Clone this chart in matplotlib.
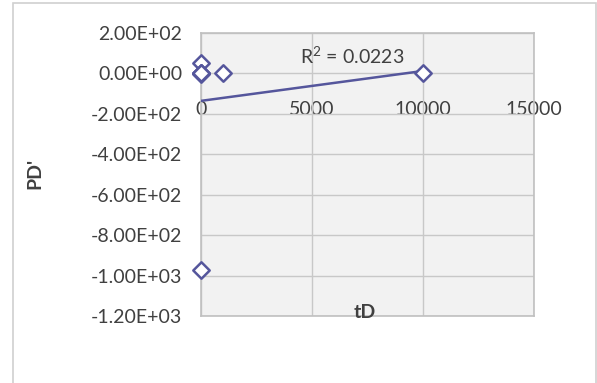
import matplotlib
matplotlib.use("Agg")
import matplotlib.pyplot as plt
import numpy as np
from matplotlib.patches import Rectangle

# dimensionless time and pressure derivative
td = [0, 0, 1, 2, 5, 1000, 10000, 0]
pd_prime = [50, 1, -2, 0, 1, 0, 0, -973]

x_ticks = [0, 5000, 10000, 15000]
y_ticks = [-1200, -1000, -800, -600, -400, -200, 0, 200]

plt.rcParams['font.family'] = ['Lato', 'DejaVu Sans']
text_col = '#404040'
series_col = '#55569c'

fig = plt.figure(figsize=(5.97, 3.83), dpi=100)
fig.patch.set_facecolor('white')

# light chart-area frame
fig.patches.append(Rectangle((13 / 597, -0.01), 583 / 597, 1 - 3 / 383 + 0.01,
                             transform=fig.transFigure, fill=False,
                             edgecolor='#d0d0d0', linewidth=1.2))

ax = fig.add_axes([201 / 597, 1 - 316 / 383, 333 / 597, 283 / 383])
ax.set_facecolor('#f2f2f2')
ax.set_xlim(0, 15000)
ax.set_ylim(-1200, 200)
ax.set_xticks(x_ticks)
ax.set_yticks(y_ticks)
ax.grid(True, color='#c8c8c8', linewidth=1.0)
ax.set_axisbelow(True)
for s in ax.spines.values():
    s.set_color('#c0c0c0')
    s.set_linewidth(1.2)

ax.yaxis.set_major_formatter(lambda v, pos: f"{v:.2E}")
ax.tick_params(axis='y', length=0, pad=13.5, labelsize=14, labelcolor=text_col)
ax.tick_params(axis='x', length=0, labelbottom=False)

# horizontal axis crosses at PD' = 0
sec = ax.secondary_xaxis(0, transform=ax.transData)
sec.set_xticks(x_ticks)
sec.spines['bottom'].set_visible(False)
sec.tick_params(length=0, pad=20, labelsize=14, labelcolor=text_col)

# linear trendline
x = np.array(td, dtype=float)
y = np.array(pd_prime, dtype=float)
slope, intercept = np.polyfit(x, y, 1)
fit = slope * x + intercept
r2 = 1 - np.sum((y - fit) ** 2) / np.sum((y - y.mean()) ** 2)
xl = np.array([0, x.max()])
ax.plot(xl, slope * xl + intercept, color=series_col, linewidth=1.8, zorder=3)

ax.scatter(td, pd_prime, marker='D', s=70, facecolor='white',
           edgecolor=series_col, linewidth=1.8, zorder=4, clip_on=False)

ax.text(0.453, 0.92, r"R$^{\mathregular{2}}$ = " + f"{r2:.4f}",
        transform=ax.transAxes, ha='center', va='center',
        fontsize=14, color=text_col)

fig.text(35 / 597, 1 - 173 / 383, "PD'", rotation=90, ha='center', va='center',
         fontsize=14, fontweight='bold', color=text_col)
fig.text(365 / 597, 1 - 312 / 383, "tD", ha='center', va='center',
         fontsize=14, fontweight='bold', color=text_col)

fig.savefig('out.png', dpi=100)
